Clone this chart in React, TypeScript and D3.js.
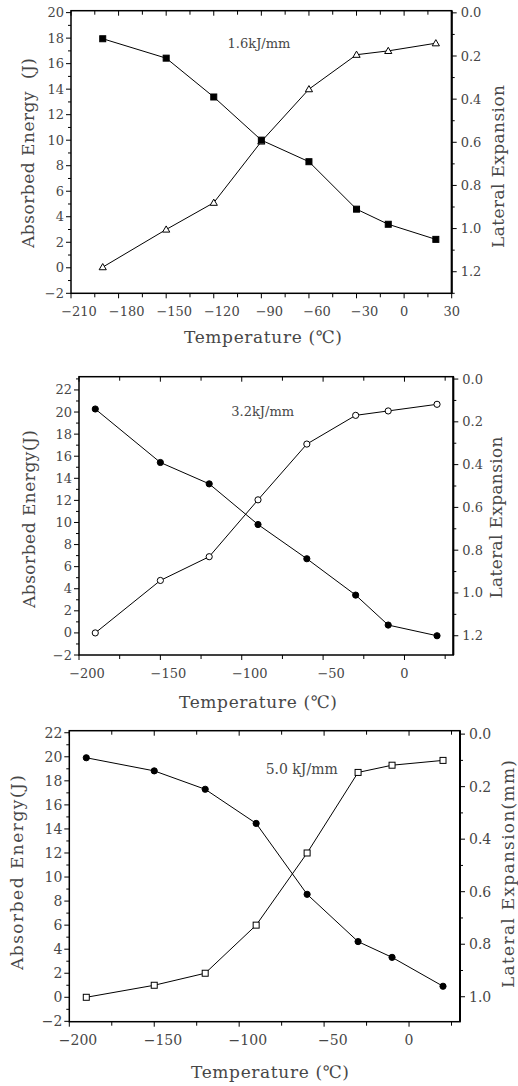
import * as d3 from 'd3';
import React from 'react';

// test temperatures (℃), shared by the three panels
const temps = [-190, -150, -120, -90, -60, -30, -10, 20];

// 1.6 kJ/mm
const energy16 = [0.05, 3.0, 5.1, 9.9, 14.0, 16.7, 17.0, 17.6];
const lateral16 = [0.12, 0.21, 0.39, 0.59, 0.69, 0.91, 0.98, 1.05];

// 3.2 kJ/mm
const energy32 = [0, 4.75, 6.9, 12.05, 17.1, 19.7, 20.1, 20.7];
const lateral32 = [0.14, 0.39, 0.49, 0.68, 0.84, 1.01, 1.15, 1.2];

// 5.0 kJ/mm
const energy50 = [0, 1.0, 2.0, 6.0, 12.0, 18.7, 19.3, 19.7];
const lateral50 = [0.09, 0.14, 0.21, 0.34, 0.61, 0.79, 0.85, 0.96];

const xTicks1 = [-210, -180, -150, -120, -90, -60, -30, 0, 30];
const xTicks23 = [-200, -150, -100, -50, 0];
const energyTicks1 = [-2, 0, 2, 4, 6, 8, 10, 12, 14, 16, 18, 20];
const energyTicks23 = [-2, 0, 2, 4, 6, 8, 10, 12, 14, 16, 18, 20, 22];
const lateralTicks12 = [0, 0.2, 0.4, 0.6, 0.8, 1.0, 1.2];
const lateralTicks3 = [0, 0.2, 0.4, 0.6, 0.8, 1.0];

const FONT = '"DejaVu Serif", "Liberation Serif", serif';
const INK = '#474747';

type Shape = 'square' | 'triangle' | 'circle';

const panels = [
  {
    frame: { left: 71, right: 451.7, top: 10.7, bottom: 293.3 },
    xDomain: [-210, 30], xTicks: xTicks1, xMinor: 15,
    yDomain: [-2, 20.15], yTicks: energyTicks1,
    rDomain: [-0.01, 1.3], rTicks: lateralTicks12,
    energy: energy16, lateral: lateral16,
    energyShape: 'triangle' as Shape, lateralShape: 'square' as Shape,
    note: '1.6kJ/mm', notePos: [259, 43],
    fs: 13,
    xLabelY: 311.7, xTitleY: 337, xTitleX: 263,
    yTitle: 'Absorbed Energy\u00a0\u00a0(J)', yTitlePos: [28, 153], yTitleLen: 190,
    rTitle: 'Lateral Expansion', rTitlePos: [497.7, 166.5], rTitleLen: 163,
  },
  {
    frame: { left: 79, right: 453.3, top: 376.7, bottom: 655 },
    xDomain: [-200, 30], xTicks: xTicks23, xMinor: 25,
    yDomain: [-2, 23.2], yTicks: energyTicks23,
    rDomain: [-0.011, 1.29], rTicks: lateralTicks12,
    energy: energy32, lateral: lateral32,
    energyShape: 'circle' as Shape, lateralShape: 'circle' as Shape,
    note: '3.2kJ/mm', notePos: [262.7, 411.7],
    fs: 13,
    xLabelY: 673.3, xTitleY: 701.7, xTitleX: 258,
    yTitle: 'Absorbed Energy(J)', yTitlePos: [29, 519], yTitleLen: 178,
    rTitle: 'Lateral Expansion', rTitlePos: [495.7, 517.5], rTitleLen: 162,
  },
  {
    frame: { left: 69.3, right: 460, top: 730.7, bottom: 1021.7 },
    xDomain: [-200, 30], xTicks: xTicks23, xMinor: 25,
    yDomain: [-2.03, 22.17], yTicks: energyTicks23,
    rDomain: [-0.013, 1.095], rTicks: lateralTicks3,
    energy: energy50, lateral: lateral50,
    energyShape: 'square' as Shape, lateralShape: 'circle' as Shape,
    note: '5.0 kJ/mm', notePos: [301.7, 769.3],
    fs: 14,
    xLabelY: 1040, xTitleY: 1071.7, xTitleX: 270,
    yTitle: 'Absorbed Energy(J)', yTitlePos: [16.7, 872.5], yTitleLen: 195,
    rTitle: 'Lateral Expansion(mm)', rTitlePos: [508.3, 874], rTitleLen: 228,
  },
];

const fmtX = (d: number) => (d < 0 ? '\u2212' + Math.abs(d) : String(d));
const fmtY = (d: number) => (d < 0 ? '\u2212' + Math.abs(d) : String(d));

function Marker({ shape, cx, cy, filled }: { shape: Shape; cx: number; cy: number; filled: boolean }) {
  const fill = filled ? '#000' : '#fff';
  if (shape === 'square')
    return <rect x={cx - 3} y={cy - 3} width={6} height={6} fill={fill} stroke="#000" strokeWidth={1} />;
  if (shape === 'triangle')
    return (
      <path
        d={`M${cx},${cy - 3.6}L${cx + 3.6},${cy + 2.6}L${cx - 3.6},${cy + 2.6}Z`}
        fill={fill} stroke="#000" strokeWidth={1}
      />
    );
  return <circle cx={cx} cy={cy} r={3.1} fill={fill} stroke="#000" strokeWidth={1} />;
}

function Panel({ p }: { p: typeof panels[number] }) {
  const { left, right, top, bottom } = p.frame;
  const x = d3.scaleLinear().domain(p.xDomain).range([left, right]);
  const yL = d3.scaleLinear().domain(p.yDomain).range([bottom, top]);
  const yR = d3.scaleLinear().domain(p.rDomain).range([top, bottom]);

  const xMinorTicks = d3.range(p.xDomain[0], p.xDomain[1] + 0.01, p.xMinor);
  const yMinorTicks = d3.range(Math.ceil(p.yDomain[0]), p.yDomain[1] + 0.01, 1);
  const rMinorTicks = d3.range(0, p.rDomain[1] + 0.001, 0.1).map((d) => +d.toFixed(1));

  const energyLine = d3.line<number>().x((_, i) => x(temps[i])).y((d) => yL(d));
  const lateralLine = d3.line<number>().x((_, i) => x(temps[i])).y((d) => yR(d));

  const isMajorX = (d: number) => p.xTicks.includes(d);
  const isMajorY = (d: number) => p.yTicks.includes(d);
  const isMajorR = (d: number) => p.rTicks.some((t) => Math.abs(t - d) < 1e-6);

  return (
    <g fontFamily={FONT} fill={INK}>
      {/* bottom (outward) and top (inward) ticks */}
      {xMinorTicks.map((d) => {
        const len = isMajorX(d) ? 5 : 4;
        return (
          <g key={'x' + d} stroke="#000" strokeWidth={1}>
            <line x1={x(d)} x2={x(d)} y1={bottom} y2={bottom + len} />
            <line x1={x(d)} x2={x(d)} y1={top} y2={top + len} />
          </g>
        );
      })}
      {/* left energy ticks */}
      {yMinorTicks.map((d) => (
        <line key={'y' + d} x1={left} x2={left - (isMajorY(d) ? 5 : 3)} y1={yL(d)} y2={yL(d)} stroke="#000" strokeWidth={1} />
      ))}
      {/* right lateral ticks */}
      {rMinorTicks.map((d) => (
        <line key={'r' + d} x1={right} x2={right + (isMajorR(d) ? 5 : 3)} y1={yR(d)} y2={yR(d)} stroke="#000" strokeWidth={1} />
      ))}

      {/* frame */}
      <rect x={left} y={top} width={right - left} height={bottom - top} fill="none" stroke="#000" strokeWidth={1.5} />
      <line x1={right} x2={right} y1={top} y2={bottom} stroke="#000" strokeWidth={2} />

      {/* tick labels */}
      {p.xTicks.map((d) => (
        <text
          key={'xl' + d} x={x(d)} y={p.xLabelY} dx={d < 0 ? '0.62em' : 0}
          textAnchor="middle" dominantBaseline="central" fontSize={p.fs}
        >
          {fmtX(d)}
        </text>
      ))}
      {p.yTicks.map((d) => (
        <text key={'yl' + d} x={left - 7} y={yL(d)} textAnchor="end" dominantBaseline="central" fontSize={p.fs}>
          {fmtY(d)}
        </text>
      ))}
      {p.rTicks.map((d) => (
        <text key={'rl' + d} x={right + 9} y={yR(d)} textAnchor="start" dominantBaseline="central" fontSize={p.fs}>
          {d.toFixed(1)}
        </text>
      ))}

      {/* series */}
      <path d={energyLine(p.energy) || ''} fill="none" stroke="#000" strokeWidth={1} />
      <path d={lateralLine(p.lateral) || ''} fill="none" stroke="#000" strokeWidth={1} />
      {p.energy.map((d, i) => (
        <Marker key={'e' + i} shape={p.energyShape} cx={x(temps[i])} cy={yL(d)} filled={false} />
      ))}
      {p.lateral.map((d, i) => (
        <Marker key={'l' + i} shape={p.lateralShape} cx={x(temps[i])} cy={yR(d)} filled={true} />
      ))}

      {/* annotation */}
      <text x={p.notePos[0]} y={p.notePos[1]} textAnchor="middle" dominantBaseline="central" fontSize={p.fs}>
        {p.note}
      </text>

      {/* axis titles */}
      <text
        x={p.xTitleX} y={p.xTitleY} textAnchor="middle" dominantBaseline="central" fontSize={17}
        textLength={158} lengthAdjust="spacing"
      >
        Temperature (℃)
      </text>
      <text
        transform={`translate(${p.yTitlePos[0]},${p.yTitlePos[1]}) rotate(-90)`}
        textAnchor="middle" dominantBaseline="central" fontSize={17}
        textLength={p.yTitleLen} lengthAdjust="spacing"
      >
        {p.yTitle}
      </text>
      <text
        transform={`translate(${p.rTitlePos[0]},${p.rTitlePos[1]}) rotate(-90)`}
        textAnchor="middle" dominantBaseline="central" fontSize={17}
        textLength={p.rTitleLen} lengthAdjust="spacing"
      >
        {p.rTitle}
      </text>
    </g>
  );
}

export default function App() {
  return (
    <svg
      width={518}
      height={1086}
      viewBox="0 0 518 1086"
      style={{ position: 'absolute', left: 0, top: 0, background: '#fff' }}
    >
      <rect width={518} height={1086} fill="#fff" />
      {panels.map((p, i) => (
        <Panel key={i} p={p} />
      ))}
    </svg>
  );
}
